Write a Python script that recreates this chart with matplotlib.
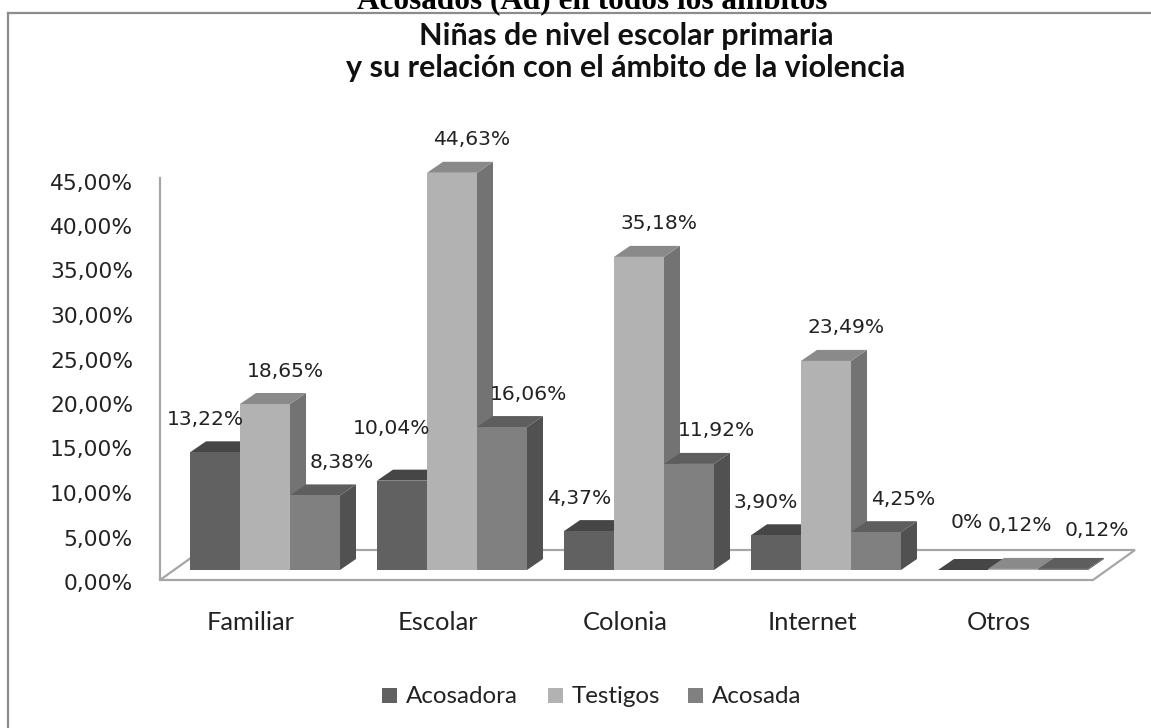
import matplotlib.pyplot as plt
from matplotlib.patches import Polygon, Rectangle
from matplotlib.lines import Line2D

# Data
categories = ['Familiar', 'Escolar', 'Colonia', 'Internet', 'Otros']
series = ['Acosadora', 'Testigos', 'Acosada']
acosadora = [13.22, 10.04, 4.37, 3.90, 0.0]
testigos = [18.65, 44.63, 35.18, 23.49, 0.12]
acosada = [8.38, 16.06, 11.92, 4.25, 0.12]
value_labels = [['13,22%', '10,04%', '4,37%', '3,90%', '0%'],
                ['18,65%', '44,63%', '35,18%', '23,49%', '0,12%'],
                ['8,38%', '16,06%', '11,92%', '4,25%', '0,12%']]
yticks = [0, 5, 10, 15, 20, 25, 30, 35, 40, 45]
ytick_labels = ['0,00%', '5,00%', '10,00%', '15,00%', '20,00%',
                '25,00%', '30,00%', '35,00%', '40,00%', '45,00%']
values = [acosadora, testigos, acosada]

# face colours: front, top, side
face_colors = [('#616161', '#464646', '#3f3f3f'),
               ('#b2b2b2', '#8a8a8a', '#737373'),
               ('#808080', '#5e5e5e', '#515151')]

W, H = 1151, 728
fig = plt.figure(figsize=(W / 100, H / 100), dpi=100)
ax = fig.add_axes([0, 0, 1, 1])
ax.axis('off')
renderer = fig.canvas.get_renderer()


def fit(text, target_px, **kw):
    # font size that gives the text the wanted pixel width
    t = fig.text(0, 0, text, fontsize=20, **kw)
    w = t.get_window_extent(renderer=renderer).width
    t.remove()
    return 20 * target_px / w


num_font = dict(family='DejaVu Sans')
lab_font = dict(family='Lato')
tick_size = fit('45,00%', 83, **num_font)
data_size = fit('13,22%', 77, **num_font)
cat_size = fit('Familiar', 88, **lab_font)
leg_size = fit('Acosadora', 112, **lab_font)
title_size = fit('y su relación con el ámbito de la violencia', 560, fontweight='bold', **lab_font)
top_size = fit('Acosados (Ad) en todos los ámbitos', 470, fontweight='bold', family='Liberation Serif')

# pixel geometry -> data units
px_x = 187.0        # pixels per category
px_y = 8.9          # pixels per percent
x0_px, y0_px = 265, 570
ax.set_xlim(-x0_px / px_x, (W - x0_px) / px_x)
ax.set_ylim(-(H - y0_px) / px_y, y0_px / px_y)


def px2x(p):
    return p / px_x


def px2y(p):
    return p / px_y


bw = px2x(50)
ddx, ddy = px2x(16), px2y(11)

# floor
fl_front = px2y(-10)
fl_back = px2y(20)
fl_dx = px2x(42)
fl_left = px2x(160 - x0_px)
fl_right = len(categories) - 1 + px2x(1093 - 1013)
floor = Polygon([(fl_left, fl_front), (fl_right, fl_front),
                 (fl_right + fl_dx, fl_back), (fl_left + fl_dx, fl_back)],
                closed=True, facecolor='white', edgecolor='#a6a6a6', lw=1.6, zorder=1)
ax.add_patch(floor)
# vertical axis line
ax.plot([fl_left, fl_left], [fl_front, 45 + fl_front + 0.2], color='#a6a6a6', lw=1.6, zorder=1)

# y tick labels
lab_off = px2y(-4) + fl_front
for t, lab in zip(yticks, ytick_labels):
    ax.text(px2x(133 - x0_px), t + lab_off, lab, ha='right', va='center',
            fontsize=tick_size, color='#222222', **num_font)

# bars
z = 2
for i in range(len(categories)):
    for s in range(len(series)):
        v = values[s][i]
        left = i + (s - 1.5) * bw
        right = left + bw
        front, top, side = face_colors[s]
        ax.add_patch(Polygon([(right, 0), (right + ddx, ddy), (right + ddx, v + ddy), (right, v)],
                             closed=True, facecolor=side, edgecolor='none', zorder=z))
        ax.add_patch(Polygon([(left, v), (right, v), (right + ddx, v + ddy), (left + ddx, v + ddy)],
                             closed=True, facecolor=top, edgecolor='none', zorder=z))
        ax.add_patch(Polygon([(left, 0), (right, 0), (right, v), (left, v)],
                             closed=True, facecolor=front, edgecolor='none', zorder=z))
        z += 1

# value labels
label_dx = [-10, 20, 27]
label_nudge = {(0, 1): (0, 19), (0, 4): (14, 15), (1, 4): (-13, 10), (2, 4): (7, 5)}
for s in range(len(series)):
    for i in range(len(categories)):
        v = values[s][i]
        nx, ny = label_nudge.get((s, i), (0, 0))
        xc = i + (s - 1) * bw + px2x(label_dx[s] + nx)
        ax.text(xc, v + px2y(33 + ny), value_labels[s][i], ha='center', va='center',
                fontsize=data_size, color='#222222', zorder=50, **num_font)

# category labels (centred on the front edge of the floor)
for i, c in enumerate(categories):
    ax.text(i - px2x(14), px2y(570 - 630), c, ha='center', va='baseline', fontsize=cat_size,
            color='#222222', **lab_font)

# titles
fig.text(626 / W, 1 - 45 / H, 'Niñas de nivel escolar primaria', ha='center', va='baseline',
         fontsize=title_size, fontweight='bold', color='#111111', **lab_font)
fig.text(626 / W, 1 - 77 / H, 'y su relación con el ámbito de la violencia', ha='center',
         va='baseline', fontsize=title_size, fontweight='bold', color='#111111', **lab_font)
fig.text(592 / W, 1 - 8.5 / H, 'Acosados (Ad) en todos los ámbitos', ha='center',
         va='baseline', fontsize=top_size, fontweight='bold', family='Liberation Serif',
         color='black')

# chart frame
fig.add_artist(Line2D([8 / W, 1], [1 - 12.5 / H, 1 - 12.5 / H], color='#8c8c8c', lw=1.6))
fig.add_artist(Line2D([8 / W, 8 / W], [0, 1 - 12.5 / H], color='#8c8c8c', lw=1.6))

# legend
leg_x = [382, 548, 688]
for s in range(len(series)):
    fig.add_artist(Rectangle((leg_x[s] / W, 1 - 703 / H), 15 / W, 15 / H,
                             facecolor=face_colors[s][0], edgecolor='none'))
    fig.text((leg_x[s] + 24) / W, 1 - 703 / H, series[s], ha='left', va='baseline',
             fontsize=leg_size, color='#222222', **lab_font)

fig.savefig('out.png', dpi=100)
